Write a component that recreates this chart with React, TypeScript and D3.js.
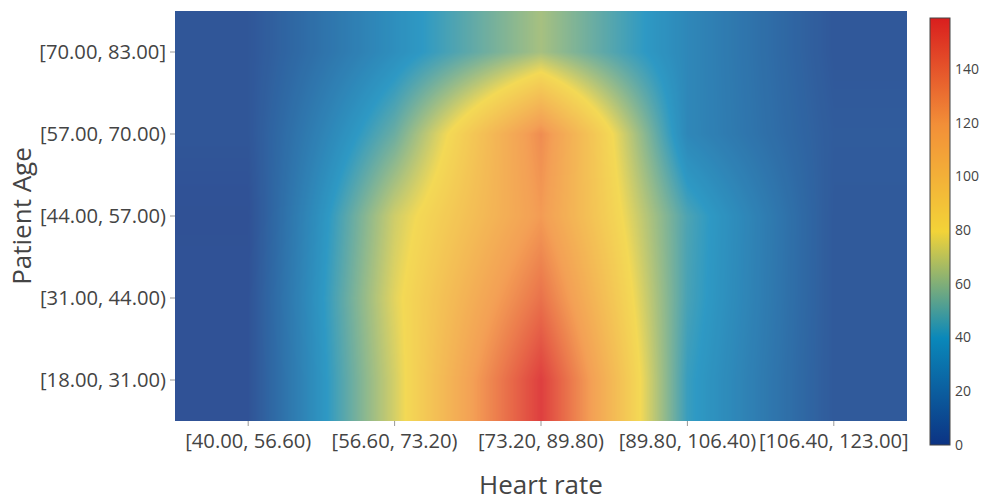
import * as d3 from 'd3'
import { useMemo } from 'react'

const heartRate = ['[40.00, 56.60)', '[56.60, 73.20)', '[73.20, 89.80)', '[89.80, 106.40)', '[106.40, 123.00]']
const ageGroups = ['[18.00, 31.00)', '[31.00, 44.00)', '[44.00, 57.00)', '[57.00, 70.00)', '[70.00, 83.00]']

// counts per age group (rows) and heart rate bin (columns)
const age18 = [1, 73, 159, 42, 5]
const age31 = [1, 76, 138, 45, 5]
const age44 = [0, 72, 121, 46, 5]
const age57 = [3, 52, 127, 30, 6]
const age70 = [3, 34, 64, 30, 4]
const counts = [age18, age31, age44, age57, age70]

const colorbarTicks = [0, 20, 40, 60, 80, 100, 120, 140]
const portland = ['rgb(12,51,131)', 'rgb(10,136,186)', 'rgb(242,211,56)', 'rgb(242,143,56)', 'rgb(217,30,30)']

const W = 983
const H = 501
const plot = { left: 175, top: 11, width: 732, height: 410 }
const bar = { x: 930, y: 18, width: 20, height: 427 }
const textColor = '#444'
const font = '"Open Sans", sans-serif'

export default function App() {
  const zmin = d3.min(counts.flat()) as number
  const zmax = d3.max(counts.flat()) as number

  const x = d3.scaleBand().domain(heartRate).range([plot.left, plot.left + plot.width])
  const y = d3.scaleBand().domain(ageGroups).range([plot.top + plot.height, plot.top])
  const color = d3.scaleLinear<string>()
    .domain(portland.map((_, i) => zmin + (zmax - zmin) * i / (portland.length - 1)))
    .range(portland)
    .interpolate(d3.interpolateRgb)
    .clamp(true)

  const href = useMemo(() => {
    const canvas = document.createElement('canvas')
    canvas.width = plot.width
    canvas.height = plot.height
    const ctx = canvas.getContext('2d')!
    const img = ctx.createImageData(plot.width, plot.height)
    const cx = heartRate.map(d => (x(d) as number) + x.bandwidth() / 2)
    const cy = ageGroups.map(d => (y(d) as number) + y.bandwidth() / 2)
    const fx = d3.scaleLinear().domain(cx).range(d3.range(cx.length)).clamp(true)
    const fy = d3.scaleLinear().domain(cy).range(d3.range(cy.length)).clamp(true)
    for (let py = 0; py < plot.height; py++) {
      const v = fy(plot.top + py + 0.5)
      const j0 = Math.min(Math.floor(v), ageGroups.length - 2)
      const ty = v - j0
      for (let px = 0; px < plot.width; px++) {
        const u = fx(plot.left + px + 0.5)
        const i0 = Math.min(Math.floor(u), heartRate.length - 2)
        const tx = u - i0
        const z00 = counts[j0][i0], z01 = counts[j0][i0 + 1]
        const z10 = counts[j0 + 1][i0], z11 = counts[j0 + 1][i0 + 1]
        const z = (z00 * (1 - tx) + z01 * tx) * (1 - ty) + (z10 * (1 - tx) + z11 * tx) * ty
        const c = d3.rgb(color(z))
        const k = (py * plot.width + px) * 4
        img.data[k] = c.r
        img.data[k + 1] = c.g
        img.data[k + 2] = c.b
        img.data[k + 3] = 255
      }
    }
    ctx.putImageData(img, 0, 0)
    return canvas.toDataURL()
  }, [])

  const cb = d3.scaleLinear().domain([zmin, zmax]).range([bar.y + bar.height, bar.y])

  return (
    <svg width={W} height={H} style={{ display: 'block', position: 'absolute', left: 0, top: 0 }} fontFamily={font}>
      <defs>
        <linearGradient id="cbar" x1="0" y1="1" x2="0" y2="0">
          {portland.map((c, i) => (
            <stop key={i} offset={i / (portland.length - 1)} stopColor={c} />
          ))}
        </linearGradient>
      </defs>
      <image href={href} x={plot.left} y={plot.top} width={plot.width} height={plot.height} opacity={0.85} preserveAspectRatio="none" />

      {heartRate.map(d => {
        const cx = (x(d) as number) + x.bandwidth() / 2
        return (
          <g key={d}>
            <line x1={cx} x2={cx} y1={plot.top + plot.height} y2={plot.top + plot.height + 5} stroke="#999" />
            <text x={cx} y={plot.top + plot.height + 27} textAnchor="middle" fontSize={20.2} fill={textColor}>{d}</text>
          </g>
        )
      })}
      {ageGroups.map(d => {
        const cy = (y(d) as number) + y.bandwidth() / 2
        return (
          <g key={d}>
            <line x1={plot.left - 5} x2={plot.left} y1={cy} y2={cy} stroke="#999" />
            <text x={plot.left - 9} y={cy} dy="0.35em" textAnchor="end" fontSize={20.2} fill={textColor}>{d}</text>
          </g>
        )
      })}

      <text x={plot.left + plot.width / 2} y={494} textAnchor="middle" fontSize={26} fill={textColor}>Heart rate</text>
      <text transform={`translate(31, ${plot.top + plot.height / 2}) rotate(-90)`} textAnchor="middle" fontSize={26} fill={textColor}>Patient Age</text>

      <rect x={bar.x} y={bar.y} width={bar.width} height={bar.height} fill="url(#cbar)" stroke={textColor} strokeWidth={1} />
      {colorbarTicks.map(t => (
        <text key={t} x={bar.x + bar.width + 5} y={cb(t)} dy="0.35em" fontSize={14} fill={textColor}>{t}</text>
      ))}
    </svg>
  )
}
